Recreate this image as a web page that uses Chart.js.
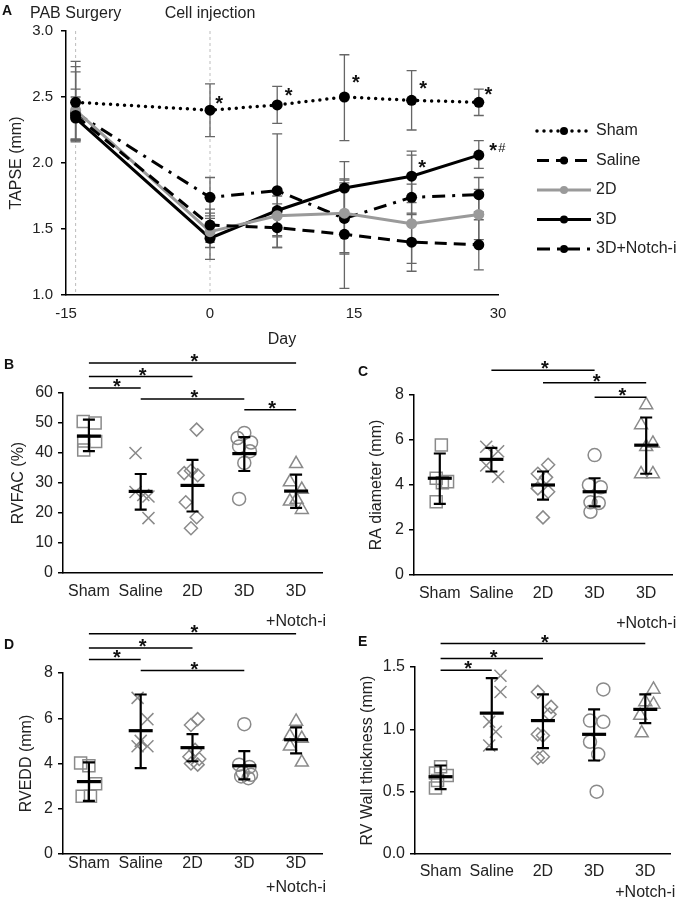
<!DOCTYPE html>
<html>
<head>
<meta charset="utf-8">
<script src="https://cdn.jsdelivr.net/npm/chart.js@4.4.0/dist/chart.umd.min.js"></script>
<style>
  body { margin: 0; background: #fff; font-family: "Liberation Sans", Arial, sans-serif; }
  #wrap { position: relative; width: 684px; height: 900px; overflow: hidden; }
  .panel { position: absolute; }
  .tag { position: absolute; font-weight: bold; font-size: 14px; line-height: 1; color: #111; }
</style>
</head>
<body>
<div id="wrap">
  <div class="panel" style="left:0;top:0;width:684px;height:350px"><canvas id="chartA"></canvas></div>
  <div class="panel" style="left:0;top:345px;width:342px;height:290px"><canvas id="chartB"></canvas></div>
  <div class="panel" style="left:342px;top:345px;width:342px;height:290px"><canvas id="chartC"></canvas></div>
  <div class="panel" style="left:0;top:615px;width:342px;height:285px"><canvas id="chartD"></canvas></div>
  <div class="panel" style="left:342px;top:615px;width:342px;height:285px"><canvas id="chartE"></canvas></div>
  <div class="tag" style="left:2px;top:3px">A</div>
  <div class="tag" style="left:4px;top:357px">B</div>
  <div class="tag" style="left:358px;top:364px">C</div>
  <div class="tag" style="left:4px;top:637px">D</div>
  <div class="tag" style="left:358px;top:634px">E</div>
</div>
<script>
// ---- panel A: TAPSE over time ----
const days = [-14, 0, 7, 14, 21, 28];
const dayTicks = [-15, 0, 15, 30];
const tapseTicks = [1.0, 1.5, 2.0, 2.5, 3.0];
const seriesNames = ["Sham", "Saline", "2D", "3D", "3D+Notch-i"];
const tapseSham = [2.46, 2.40, 2.44, 2.50, 2.475, 2.46];
const tapseSaline = [2.36, 1.53, 1.51, 1.46, 1.40, 1.38];
const tapse2D = [2.40, 1.48, 1.60, 1.62, 1.54, 1.61];
const tapse3D = [2.34, 1.43, 1.64, 1.81, 1.90, 2.06];
const tapseNotch = [2.38, 1.74, 1.79, 1.58, 1.74, 1.76];
const tapseLow = [
  [2.18, 2.20, 2.30, 2.17, 2.25, 2.36],
  [2.16, 1.40, 1.36, 1.05, 1.18, 1.19],
  [2.17, 1.36, 1.45, 1.32, 1.24, 1.42],
  [2.18, 1.27, 1.44, 1.60, 1.70, 1.96],
  [2.17, 1.60, 1.36, 1.31, 1.61, 1.63]
];
const tapseHigh = [
  [2.77, 2.60, 2.58, 2.82, 2.70, 2.56],
  [2.56, 1.65, 1.66, 1.87, 1.62, 1.57],
  [2.69, 1.62, 1.75, 1.88, 1.84, 1.80],
  [2.50, 1.58, 1.69, 2.01, 2.09, 2.17],
  [2.73, 1.89, 2.22, 1.85, 2.06, 1.89]
];
const eventDays = [-14, 0];
const eventLabels = ["PAB Surgery", "Cell injection"];
const starDays = [0.95, 8.2, 15.2, 22.2, 29.0, 22.1, 29.5];
const starLevels = [2.475, 2.54, 2.64, 2.59, 2.545, 1.995, 2.125];
const starTexts = ["*", "*", "*", "*", "*", "*", "*#"];

// ---- panels B-E: group dot plots ----
const groupNames = ["Sham", "Saline", "2D", "3D", "3D+Notch-i"];
const groupLabels = [["Sham"], ["Saline"], ["2D"], ["3D"], ["3D", "+Notch-i"]];

const rvfacTicks = [0, 10, 20, 30, 40, 50, 60];
const rvfacValues = [
  [50.5, 50.0, 44.0, 43.8, 41.0],
  [40.0, 27.0, 26.0, 25.5, 18.3],
  [47.8, 33.3, 34.1, 32.6, 23.6, 18.6, 14.9],
  [46.7, 45.0, 43.5, 42.2, 40.6, 36.7, 24.7],
  [36.4, 30.3, 27.8, 23.9, 24.5, 21.1]
];
const rvfacJitter = [
  [-0.11, 0.12, -0.1, 0.13, -0.1],
  [-0.1, -0.1, 0.05, 0.15, 0.15],
  [0.08, -0.16, -0.03, 0.1, -0.13, 0.08, -0.03],
  [0, -0.13, 0.13, -0.1, 0.11, 0, -0.1],
  [0, -0.12, 0.11, -0.12, 0.01, 0.11]
];
const rvfacMean = [45.6, 27.2, 29.2, 39.8, 27.3];
const rvfacLow = [40.6, 21.1, 20.5, 34.0, 21.7];
const rvfacHigh = [51.1, 33.0, 37.7, 45.3, 32.8];
const rvfacPairs = [[0, 4], [0, 2], [0, 1], [1, 3], [3, 4]];
const rvfacLevels = [70, 65.5, 61.7, 58, 54.4];

const raTicks = [0, 2, 4, 6, 8];
const raValues = [
  [5.78, 4.3, 4.15, 4.1, 3.26],
  [5.7, 5.5, 4.87, 4.37],
  [4.9, 4.5, 4.34, 3.85, 3.7, 2.56],
  [5.33, 4.0, 3.9, 3.23, 3.2, 2.81],
  [7.56, 6.67, 5.85, 5.7, 4.49, 4.49]
];
const raJitter = [
  [0.03, -0.07, 0.15, 0.05, -0.07],
  [-0.1, 0.13, -0.1, 0.13],
  [0.1, -0.1, 0.06, -0.1, 0.1, 0],
  [0, -0.11, 0.12, -0.08, 0.08, -0.08],
  [0, -0.1, 0.13, 0, -0.1, 0.13]
];
const raMean = [4.3, 5.14, 4.0, 3.7, 5.77];
const raLow = [3.16, 4.6, 3.35, 3.05, 4.5];
const raHigh = [5.4, 5.65, 4.6, 4.3, 7.0];
const raPairs = [[1, 3], [2, 4], [3, 4]];
const raLevels = [9.1, 8.55, 7.9];

const rvedTicks = [0, 2, 4, 6, 8];
const rvedValues = [
  [4.02, 3.9, 3.1, 2.55, 2.55],
  [6.9, 5.96, 5.0, 4.76, 4.76],
  [5.96, 5.7, 4.6, 4.3, 4.2, 4.0, 3.95],
  [5.74, 3.95, 3.85, 3.6, 3.5, 3.43, 3.35],
  [5.86, 5.2, 5.1, 4.76, 4.05]
];
const rvedJitter = [
  [-0.16, 0, 0.13, -0.13, 0.03],
  [-0.06, 0.13, 0, -0.06, 0.13],
  [0.1, -0.03, 0.05, -0.06, 0.13, -0.03, 0.1],
  [0, -0.1, 0.1, -0.03, 0.13, -0.06, 0.08],
  [0, -0.12, 0.11, -0.12, 0.11]
];
const rvedMean = [3.2, 5.45, 4.7, 3.9, 5.05];
const rvedLow = [2.35, 3.8, 4.1, 3.3, 4.45];
const rvedHigh = [4.05, 7.05, 5.3, 4.55, 5.6];
const rvedPairs = [[0, 4], [0, 2], [0, 1], [1, 3]];
const rvedLevels = [9.73, 9.11, 8.6, 8.11];

const wallTicks = [0, 0.5, 1.0, 1.5];
const wallValues = [
  [0.70, 0.65, 0.63, 0.59, 0.53],
  [1.43, 1.30, 1.06, 0.98, 0.87],
  [1.30, 1.18, 1.12, 0.96, 0.95, 0.77, 0.78],
  [1.32, 1.07, 1.06, 0.90, 0.80, 0.50],
  [1.32, 1.22, 1.20, 1.11, 0.97]
];
const wallJitter = [
  [0, -0.1, 0.13, -0.06, -0.1],
  [0.17, 0.17, -0.05, 0.08, -0.05],
  [-0.1, 0.16, 0.13, -0.1, 0, -0.1, 0],
  [0.18, -0.08, 0.18, -0.08, 0.08, 0.05],
  [0.16, 0, 0.16, -0.1, -0.07]
];
const wallMean = [0.62, 1.13, 1.07, 0.96, 1.16];
const wallLow = [0.52, 0.84, 0.85, 0.75, 1.05];
const wallHigh = [0.71, 1.41, 1.28, 1.16, 1.28];
const wallPairs = [[0, 4], [0, 2], [0, 1]];
const wallLevels = [1.688, 1.568, 1.474];

Chart.defaults.font.family = '"Liberation Sans", Arial, sans-serif';
Chart.defaults.font.size = 16;
Chart.defaults.color = "#222";

function drawStar(ctx, text, cx, cy, bottomAligned) {
  ctx.font = "bold 20px 'Liberation Sans', Arial, sans-serif";
  ctx.textAlign = "center";
  ctx.textBaseline = "alphabetic";
  const m = ctx.measureText("*");
  const asc = m.actualBoundingBoxAscent, desc = m.actualBoundingBoxDescent;
  const base = bottomAligned ? cy - desc : cy - (desc - asc) / 2;
  ctx.fillText("*", cx, base);
  if (text.length > 1) {
    ctx.font = "13px 'Liberation Sans', Arial, sans-serif";
    ctx.textAlign = "left";
    ctx.textBaseline = "middle";
    ctx.fillText(text.slice(1), cx + 5, cy + 2);
  }
}

// ---- chart A ----
const tapseSeries = [tapseSham, tapseSaline, tapse2D, tapse3D, tapseNotch];
const lineLooks = [
  { color: "#000", dash: [0, 7], cap: "round", width: 3.5 },
  { color: "#000", dash: [12, 7], cap: "butt", width: 3 },
  { color: "#9a9a9a", dash: [], cap: "butt", width: 3 },
  { color: "#000", dash: [], cap: "butt", width: 3 },
  { color: "#000", dash: [13, 7, 3, 7], cap: "butt", width: 3 }
];

const tapsePlugin = {
  id: "tapseExtras",
  beforeDatasetsDraw(chart) {
    const { ctx, chartArea, scales: { x, y } } = chart;
    ctx.save();
    ctx.strokeStyle = "#bdbdbd";
    ctx.lineWidth = 1;
    ctx.setLineDash([3, 3]);
    eventDays.forEach(d => {
      const px = x.getPixelForValue(d);
      ctx.beginPath();
      ctx.moveTo(px, chartArea.top);
      ctx.lineTo(px, chartArea.bottom);
      ctx.stroke();
    });
    ctx.setLineDash([]);
    ctx.strokeStyle = "#666";
    ctx.lineWidth = 1.3;
    tapseSeries.forEach((vals, s) => {
      days.forEach((d, i) => {
        const px = x.getPixelForValue(d);
        const lo = y.getPixelForValue(tapseLow[s][i]);
        const hi = y.getPixelForValue(tapseHigh[s][i]);
        ctx.beginPath();
        ctx.moveTo(px, lo); ctx.lineTo(px, hi);
        ctx.moveTo(px - 5, lo); ctx.lineTo(px + 5, lo);
        ctx.moveTo(px - 5, hi); ctx.lineTo(px + 5, hi);
        ctx.stroke();
      });
    });
    ctx.restore();
  },
  afterDraw(chart) {
    const { ctx, scales: { x, y } } = chart;
    ctx.save();
    ctx.fillStyle = "#222";
    ctx.font = "16px 'Liberation Sans', Arial, sans-serif";
    ctx.textAlign = "center";
    ctx.textBaseline = "middle";
    eventDays.forEach((d, i) => ctx.fillText(eventLabels[i], x.getPixelForValue(d), 14));
    ctx.fillStyle = "#111";
    starDays.forEach((d, i) => drawStar(ctx, starTexts[i], x.getPixelForValue(d), y.getPixelForValue(starLevels[i]), false));
    // legend
    seriesNames.forEach((name, s) => {
      const look = lineLooks[s];
      const ly = 131 + s * 29.5;
      ctx.strokeStyle = look.color;
      ctx.lineWidth = look.width;
      ctx.lineCap = look.cap;
      ctx.setLineDash(look.dash);
      ctx.beginPath();
      ctx.moveTo(537, ly); ctx.lineTo(591, ly);
      ctx.stroke();
      ctx.setLineDash([]);
      ctx.fillStyle = look.color;
      ctx.beginPath();
      ctx.arc(564, ly, 4, 0, Math.PI * 2);
      ctx.fill();
      ctx.fillStyle = "#222";
      ctx.font = "16px 'Liberation Sans', Arial, sans-serif";
      ctx.textAlign = "left";
      ctx.textBaseline = "middle";
      ctx.fillText(name, 596, ly);
    });
    ctx.restore();
  }
};

new Chart(document.getElementById("chartA"), {
  type: "line",
  data: {
    datasets: tapseSeries.map((vals, s) => ({
      label: seriesNames[s],
      data: days.map((d, i) => ({ x: d, y: vals[i] })),
      borderColor: lineLooks[s].color,
      borderDash: lineLooks[s].dash,
      borderCapStyle: lineLooks[s].cap,
      borderWidth: lineLooks[s].width,
      pointRadius: 5.5,
      pointBackgroundColor: lineLooks[s].color,
      pointBorderWidth: 0,
      fill: false,
      tension: 0
    }))
  },
  options: {
    responsive: true,
    maintainAspectRatio: false,
    animation: false,
    layout: { padding: { top: 31, right: 186, left: 0, bottom: 0 } },
    plugins: { legend: { display: false }, tooltip: { enabled: false } },
    scales: {
      x: {
        type: "linear", min: -15, max: 30,
        afterBuildTicks: s => { s.ticks = dayTicks.map(v => ({ value: v })); },
        afterFit: s => { s.height = 55; },
        grid: { display: false, drawTicks: false },
        border: { color: "#000", width: 1.5 },
        ticks: { padding: 10, font: { size: 15 } },
        title: { display: true, text: "Day", font: { size: 16 }, padding: { top: 0, bottom: 1 } }
      },
      y: {
        min: 1, max: 3,
        afterBuildTicks: s => { s.ticks = tapseTicks.map(v => ({ value: v })); },
        afterFit: s => { s.width = 66; },
        grid: { display: true, drawOnChartArea: false, drawTicks: true, tickLength: 5, color: "#000", lineWidth: 1.5 },
        border: { color: "#000", width: 1.5 },
        ticks: { padding: 8, font: { size: 15 }, callback: v => v.toFixed(1) },
        title: { display: true, text: "TAPSE (mm)", font: { size: 16 }, padding: { top: 7, bottom: 0 } }
      }
    }
  },
  plugins: [tapsePlugin]
});

// ---- charts B-E ----
const markerStyles = ["rect", "crossRot", "rectRot", "circle", "triangle"];
const markerRadius = [8.5, 8.5, 6.5, 6.5, 7.5];

function dotChart(id, d, L) {
  const extras = {
    id: "extras" + id,
    afterDatasetsDraw(chart) {
      const { ctx, scales: { x, y } } = chart;
      ctx.save();
      ctx.strokeStyle = "#000";
      d.mean.forEach((m, g) => {
        const px = x.getPixelForValue(g);
        const lo = y.getPixelForValue(d.low[g]);
        const hi = y.getPixelForValue(d.high[g]);
        const pm = y.getPixelForValue(m);
        ctx.lineWidth = 2.2;
        ctx.beginPath();
        ctx.moveTo(px, lo); ctx.lineTo(px, hi);
        ctx.moveTo(px - 6, lo); ctx.lineTo(px + 6, lo);
        ctx.moveTo(px - 6, hi); ctx.lineTo(px + 6, hi);
        ctx.stroke();
        ctx.lineWidth = 3.2;
        ctx.beginPath();
        ctx.moveTo(px - 12, pm); ctx.lineTo(px + 12, pm);
        ctx.stroke();
      });
      ctx.restore();
    },
    afterDraw(chart) {
      const { ctx, scales: { x, y } } = chart;
      ctx.save();
      ctx.strokeStyle = "#000";
      ctx.fillStyle = "#111";
      ctx.lineWidth = 1.5;
      d.pairs.forEach((p, i) => {
        const x0 = x.getPixelForValue(p[0]);
        const x1 = x.getPixelForValue(p[1]);
        const py = y.getPixelForValue(d.levels[i]);
        ctx.beginPath();
        ctx.moveTo(x0, py); ctx.lineTo(x1, py);
        ctx.stroke();
        drawStar(ctx, "*", (x0 + x1) / 2 + 2, py - 1, true);
      });
      ctx.restore();
    }
  };

  new Chart(document.getElementById(id), {
    type: "scatter",
    data: {
      datasets: d.values.map((vals, g) => ({
        label: groupNames[g],
        data: vals.map((v, i) => ({ x: g + d.jitter[g][i], y: v })),
        pointStyle: markerStyles[g],
        pointRadius: markerRadius[g],
        borderColor: "#8a8a8a",
        backgroundColor: "rgba(0,0,0,0)",
        pointBorderWidth: 1.5
      }))
    },
    options: {
      responsive: true,
      maintainAspectRatio: false,
      animation: false,
      layout: { padding: { top: L.top, right: L.right, left: 0, bottom: 0 } },
      plugins: { legend: { display: false }, tooltip: { enabled: false } },
      scales: {
        x: {
          type: "linear", min: -0.5, max: 4.5,
          afterBuildTicks: s => { s.ticks = groupNames.map((n, i) => ({ value: i })); },
          afterFit: s => { s.height = L.xh; },
          grid: { display: false, drawTicks: false },
          border: { color: "#000", width: 1.5 },
          ticks: { padding: L.tp, autoSkip: false, maxRotation: 0, font: { size: 16, lineHeight: L.lh },
                   callback: v => groupLabels[v] }
        },
        y: {
          min: d.ticks[0], max: d.ticks[d.ticks.length - 1],
          afterBuildTicks: s => { s.ticks = d.ticks.map(v => ({ value: v })); },
          afterFit: s => { s.width = L.left; },
          grid: { display: true, drawOnChartArea: false, drawTicks: true, tickLength: 5, color: "#000", lineWidth: 1.5 },
          border: { color: "#000", width: 1.5 },
          ticks: { padding: 5, callback: v => v.toFixed(d.decimals) },
          title: { display: true, text: d.title, padding: { top: L.tt, bottom: 0 } }
        }
      }
    },
    plugins: [extras]
  });
}

dotChart("chartB",
  { values: rvfacValues, jitter: rvfacJitter, mean: rvfacMean, low: rvfacLow, high: rvfacHigh,
    pairs: rvfacPairs, levels: rvfacLevels, ticks: rvfacTicks, decimals: 0, title: "RVFAC (%)" },
  { left: 63, right: 20, top: 48, xh: 62, tp: 4, lh: 1.875, tt: 9.4 });

dotChart("chartC",
  { values: raValues, jitter: raJitter, mean: raMean, low: raLow, high: raHigh,
    pairs: raPairs, levels: raLevels, ticks: raTicks, decimals: 0, title: "RA diameter (mm)" },
  { left: 72, right: 12, top: 50, xh: 60, tp: 3.5, lh: 1.875, tt: 25.4 });

dotChart("chartD",
  { values: rvedValues, jitter: rvedJitter, mean: rvedMean, low: rvedLow, high: rvedHigh,
    pairs: rvedPairs, levels: rvedLevels, ticks: rvedTicks, decimals: 0, title: "RVEDD (mm)" },
  { left: 63, right: 20, top: 58, xh: 46, tp: -2, lh: 1.5, tt: 17.4 });

dotChart("chartE",
  { values: wallValues, jitter: wallJitter, mean: wallMean, low: wallLow, high: wallHigh,
    pairs: wallPairs, levels: wallLevels, ticks: wallTicks, decimals: 1, title: "RV Wall thickness (mm)" },
  { left: 73, right: 12, top: 52, xh: 46, tp: 7.5, lh: 1.3125, tt: 16.4 });
</script>
</body>
</html>
